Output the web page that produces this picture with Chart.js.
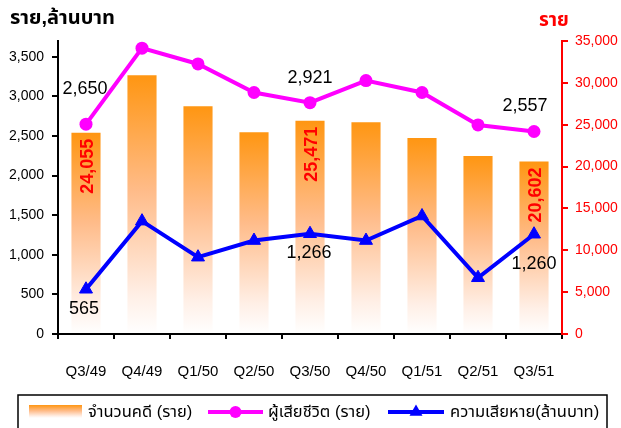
<!DOCTYPE html>
<html>
<head>
<meta charset="utf-8">
<script src="https://cdn.jsdelivr.net/npm/chart.js@4.4.1/dist/chart.umd.min.js"></script>
<style>
html,body{margin:0;padding:0;background:#fff;}
canvas{display:block;}
</style>
</head>
<body>
<canvas id="c" width="621" height="428"></canvas>
<script>
const categories = ['Q3/49','Q4/49','Q1/50','Q2/50','Q3/50','Q4/50','Q1/51','Q2/51','Q3/51'];
const cases = [24055, 30900, 27200, 24100, 25471, 25300, 23400, 21250, 20602];
const deaths = [2650, 3610, 3410, 3050, 2921, 3200, 3050, 2640, 2557];
const damage = [565, 1425, 970, 1180, 1266, 1180, 1490, 710, 1260];
const leftTicks = [0, 500, 1000, 1500, 2000, 2500, 3000, 3500];
const rightTicks = [0, 5000, 10000, 15000, 20000, 25000, 30000, 35000];
const seriesNames = ['จำนวนคดี (ราย)', 'ผู้เสียชีวิต (ราย)', 'ความเสียหาย(ล้านบาท)'];
const leftTitle = 'ราย,ล้านบาท';
const rightTitle = 'ราย';
const labeledIdx = [0, 4, 8];

const FONT = '"Liberation Sans", Arial, "Noto Sans Thai", Tahoma, sans-serif';
Chart.defaults.font.family = FONT;
const fmt = v => Number(v).toLocaleString('en-US');

function barGradient(c2d, top, bottom) {
  const g = c2d.createLinearGradient(0, top, 0, bottom);
  g.addColorStop(0, '#FF9612');
  g.addColorStop(0.45, '#FFBC8A');
  g.addColorStop(0.85, '#FFEFE6');
  g.addColorStop(1, '#FFFFFF');
  return g;
}

const pinkOffsets = {0: [-1, -35], 4: [0, -25], 8: [-9, -25]};
const blueOffsets = {0: [-2, 20], 4: [-1, 19], 8: [0, 30]};

const labelPlugin = {
  id: 'labels',
  afterDatasetsDraw(chart) {
    const ctx = chart.ctx;
    ctx.save();
    const barMeta = chart.getDatasetMeta(0);
    ctx.font = 'bold 18px ' + FONT;
    ctx.fillStyle = '#FF0000';
    labeledIdx.forEach(i => {
      const el = barMeta.data[i];
      ctx.save();
      ctx.translate(el.x + 2, el.y + 6);
      ctx.rotate(-Math.PI / 2);
      ctx.textAlign = 'right';
      ctx.textBaseline = 'middle';
      ctx.fillText(fmt(cases[i]), 0, 0);
      ctx.restore();
    });
    ctx.font = '18px ' + FONT;
    ctx.fillStyle = '#000';
    ctx.textAlign = 'center';
    ctx.textBaseline = 'middle';
    const pinkMeta = chart.getDatasetMeta(1);
    labeledIdx.forEach(i => {
      const el = pinkMeta.data[i];
      const o = pinkOffsets[i];
      ctx.fillText(fmt(deaths[i]), el.x + o[0], el.y + o[1]);
    });
    const blueMeta = chart.getDatasetMeta(2);
    labeledIdx.forEach(i => {
      const el = blueMeta.data[i];
      const o = blueOffsets[i];
      ctx.fillText(fmt(damage[i]), el.x + o[0], el.y + o[1]);
    });
    ctx.restore();
  },
  afterDraw(chart) {
    const ctx = chart.ctx;
    ctx.save();
    ctx.textBaseline = 'middle';
    ctx.textAlign = 'left';
    ctx.font = 'bold 20px ' + FONT;
    ctx.fillStyle = '#000';
    ctx.fillText(leftTitle, 10, 18);
    ctx.font = 'bold 19px ' + FONT;
    ctx.fillStyle = '#FF0000';
    ctx.fillText(rightTitle, 539, 21);

    ctx.strokeStyle = '#000';
    ctx.lineWidth = 1.5;
    ctx.strokeRect(18, 395, 589, 45);
    const cy = 412;
    ctx.fillStyle = barGradient(ctx, 405, 418);
    ctx.fillRect(29, 405, 53, 13);
    ctx.font = '16.5px ' + FONT;
    ctx.fillStyle = '#000';
    ctx.textBaseline = 'middle';
    ctx.textAlign = 'left';
    ctx.fillText(seriesNames[0], 88, cy);
    ctx.strokeStyle = '#FF00FF';
    ctx.lineWidth = 4;
    ctx.beginPath(); ctx.moveTo(208, cy); ctx.lineTo(263, cy); ctx.stroke();
    ctx.fillStyle = '#FF00FF';
    ctx.beginPath(); ctx.arc(235.5, cy, 6, 0, Math.PI * 2); ctx.fill();
    ctx.fillStyle = '#000';
    ctx.fillText(seriesNames[1], 268, cy);
    ctx.strokeStyle = '#0000FF';
    ctx.beginPath(); ctx.moveTo(388, cy); ctx.lineTo(444, cy); ctx.stroke();
    ctx.fillStyle = '#0000FF';
    const r = 7.5, tx = 416;
    ctx.beginPath();
    ctx.moveTo(tx, cy - r);
    ctx.lineTo(tx + r * Math.sqrt(3) / 2, cy + r / 2);
    ctx.lineTo(tx - r * Math.sqrt(3) / 2, cy + r / 2);
    ctx.closePath(); ctx.fill();
    ctx.fillStyle = '#000';
    ctx.fillText(seriesNames[2], 450, cy);
    ctx.restore();
  }
};

new Chart(document.getElementById('c'), {
  type: 'bar',
  data: {
    labels: categories,
    datasets: [
      {
        type: 'bar',
        label: seriesNames[0],
        data: cases,
        yAxisID: 'y1',
        order: 3,
        categoryPercentage: 1,
        barPercentage: 0.52,
        backgroundColor: (c) => {
          const chart = c.chart;
          if (!chart.chartArea || c.type !== 'data') return '#FF9612';
          const s = chart.scales.y1;
          const top = s.getPixelForValue(c.raw);
          const bottom = s.getPixelForValue(0);
          return barGradient(chart.ctx, top, bottom);
        },
        borderWidth: 0
      },
      {
        type: 'line',
        label: seriesNames[1],
        data: deaths,
        yAxisID: 'y',
        order: 2,
        borderColor: '#FF00FF',
        backgroundColor: '#FF00FF',
        borderWidth: 4,
        pointStyle: 'circle',
        pointRadius: 6.5,
        pointBorderWidth: 0,
        pointBackgroundColor: '#FF00FF',
        tension: 0
      },
      {
        type: 'line',
        label: seriesNames[2],
        data: damage,
        yAxisID: 'y',
        order: 1,
        borderColor: '#0000FF',
        backgroundColor: '#0000FF',
        borderWidth: 4,
        pointStyle: 'triangle',
        pointRadius: 7.5,
        pointBorderWidth: 1,
        pointBorderColor: '#0000FF',
        pointBackgroundColor: '#0000FF',
        tension: 0
      }
    ]
  },
  options: {
    responsive: false,
    animation: false,
    devicePixelRatio: 1,
    layout: { padding: { top: 41, bottom: 44, left: 0, right: 0 } },
    plugins: { legend: { display: false }, tooltip: { enabled: false } },
    scales: {
      x: {
        position: 'bottom',
        offset: true,
        grid: { display: true, drawOnChartArea: false, drawTicks: true, tickLength: 5, color: '#000', lineWidth: 2, offset: true },
        border: { display: true, color: '#000', width: 2 },
        ticks: { color: '#000', font: { size: 15 }, padding: 24, maxRotation: 0 },
        afterFit: s => { s.height = 50; }
      },
      y: {
        position: 'left',
        min: 0,
        max: 3700,
        afterBuildTicks: a => { a.ticks = leftTicks.map(v => ({ value: v })); },
        grid: { display: true, drawOnChartArea: false, drawTicks: true, tickLength: 6, color: '#000', lineWidth: 2 },
        border: { display: true, color: '#000', width: 2 },
        ticks: { color: '#000', font: { size: 14 }, padding: 8, callback: v => fmt(v) },
        afterFit: s => { s.width = 58; }
      },
      y1: {
        position: 'right',
        min: 0,
        max: 35000,
        afterBuildTicks: a => { a.ticks = rightTicks.map(v => ({ value: v })); },
        grid: { display: true, drawOnChartArea: false, drawTicks: true, tickLength: 6, color: '#FF0000', lineWidth: 2 },
        border: { display: true, color: '#FF0000', width: 2 },
        ticks: { color: '#FF0000', font: { size: 14 }, padding: 7, callback: v => fmt(v) },
        afterFit: s => { s.width = 59; }
      }
    }
  },
  plugins: [labelPlugin]
});
</script>
</body>
</html>
